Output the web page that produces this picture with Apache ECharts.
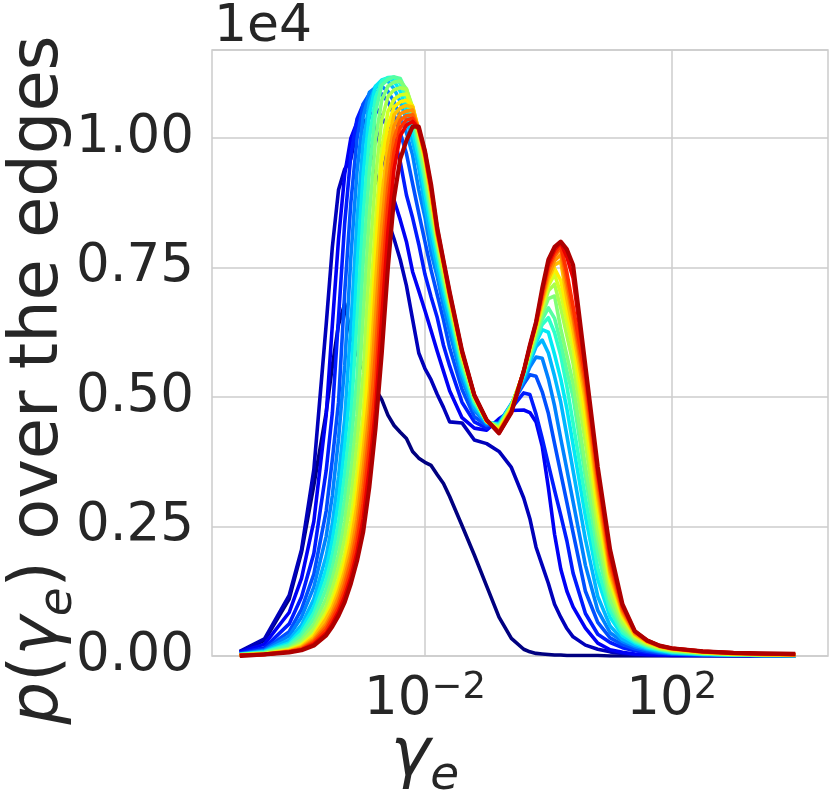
<!DOCTYPE html>
<html><head><meta charset="utf-8">
<script src="https://cdn.jsdelivr.net/npm/echarts@6.0.0/dist/echarts.min.js"></script>
<style>html,body{margin:0;padding:0;background:#fff}#c{width:830px;height:792px}</style>
</head><body><div id="c"></div><script>
// x positions: log10(gamma_e)
const logGamma = [-5.0,-4.6,-4.2,-4.0,-3.8,-3.6,-3.5,-3.4,-3.3,-3.2,-3.1,-3.0,-2.9,-2.8,-2.7,-2.6,-2.5,-2.4,-2.3,-2.2,-2.1,-2.0,-1.9,-1.8,-1.7,-1.6,-1.4,-1.2,-1.0,-0.8,-0.6,-0.4,-0.3,-0.2,-0.1,0.0,0.1,0.2,0.3,0.4,0.6,0.8,1.0,1.2,1.4,1.6,1.8,2.0,2.5,3.0,3.5,4.0];
// p(gamma_e) in units of 1e4, one array per curve (first = darkest blue, last = dark red)
const p00 = [0.008,0.03,0.11,0.2,0.33,0.47,0.56,0.64,0.68,0.62,0.585,0.555,0.535,0.515,0.495,0.465,0.445,0.432,0.42,0.395,0.382,0.374,0.368,0.35,0.333,0.308,0.252,0.195,0.135,0.075,0.034,0.013,0.008,0.005,0.004,0.003,0.002,0.002,0.001,0.001,0.001,0.001,0,0,0,0,0,0,0,0,0,0];
const p01 = [0.009,0.033,0.117,0.205,0.36,0.64,0.79,0.9,0.94,0.96,1.02,1.035,0.98,0.93,0.89,0.84,0.805,0.765,0.715,0.65,0.585,0.555,0.533,0.505,0.48,0.452,0.45,0.417,0.41,0.395,0.364,0.305,0.265,0.21,0.175,0.14,0.10,0.075,0.053,0.037,0.021,0.013,0.008,0.005,0.003,0.002,0.002,0.001,0.001,0,0,0];
const p02 = [0.0075,0.023,0.084,0.150,0.26,0.465,0.64,0.805,0.93,1.0,1.03,1.05,1.052,1.02,0.975,0.925,0.88,0.842,0.80,0.742,0.705,0.667,0.628,0.588,0.55,0.512,0.46,0.44,0.436,0.458,0.474,0.475,0.47,0.452,0.405,0.325,0.235,0.168,0.125,0.095,0.054,0.025,0.012,0.007,0.004,0.003,0.002,0.002,0.001,0.001,0,0];
const p03 = [0.006,0.016,0.062,0.114,0.198,0.358,0.47,0.654,0.836,0.967,1.037,1.065,1.07,1.06,1.04,1.02,0.998,0.954,0.89,0.846,0.795,0.737,0.693,0.653,0.6,0.56,0.49,0.452,0.44,0.45,0.478,0.508,0.505,0.467,0.42,0.37,0.32,0.272,0.222,0.16,0.082,0.042,0.026,0.016,0.01,0.007,0.005,0.004,0.002,0.001,0.001,0];
const p04 = [0.0042,0.0127,0.047,0.09,0.158,0.28,0.38,0.49,0.702,0.876,1.0,1.066,1.085,1.09,1.085,1.07,1.045,1.01,0.97,0.912,0.855,0.80,0.745,0.697,0.649,0.595,0.515,0.462,0.445,0.45,0.485,0.525,0.543,0.54,0.51,0.468,0.41,0.353,0.296,0.238,0.125,0.065,0.035,0.022,0.014,0.009,0.006,0.004,0.002,0.001,0.001,0];
const p05 = [0.0037,0.0107,0.039,0.075,0.133,0.231,0.31,0.419,0.561,0.77,0.936,1.042,1.088,1.098,1.10,1.09,1.07,1.04,1.01,0.967,0.90,0.847,0.778,0.732,0.675,0.625,0.533,0.474,0.448,0.45,0.487,0.53,0.558,0.577,0.575,0.535,0.483,0.42,0.36,0.298,0.175,0.088,0.045,0.028,0.018,0.012,0.008,0.005,0.003,0.002,0.001,0.001];
const p06 = [0.0033,0.0092,0.031,0.06,0.11,0.193,0.256,0.347,0.458,0.639,0.842,0.992,1.07,1.1,1.108,1.11,1.095,1.07,1.035,0.993,0.942,0.868,0.803,0.748,0.693,0.645,0.545,0.48,0.45,0.447,0.485,0.535,0.567,0.597,0.61,0.585,0.54,0.49,0.425,0.358,0.225,0.115,0.058,0.032,0.021,0.014,0.009,0.006,0.003,0.002,0.001,0.001];
const p07 = [0.003,0.0083,0.025,0.052,0.095,0.168,0.224,0.299,0.405,0.53,0.753,0.931,1.047,1.1,1.112,1.116,1.11,1.09,1.055,1.013,0.962,0.893,0.826,0.767,0.709,0.66,0.555,0.487,0.452,0.447,0.485,0.54,0.573,0.605,0.63,0.625,0.582,0.535,0.477,0.408,0.27,0.148,0.075,0.039,0.025,0.016,0.011,0.007,0.004,0.002,0.001,0.001];
const p08 = [0.0027,0.0074,0.022,0.044,0.083,0.148,0.195,0.257,0.351,0.46,0.648,0.852,1.0,1.078,1.11,1.117,1.118,1.105,1.075,1.035,0.977,0.914,0.842,0.782,0.721,0.669,0.563,0.49,0.452,0.445,0.485,0.543,0.578,0.612,0.64,0.653,0.624,0.58,0.52,0.45,0.305,0.17,0.088,0.045,0.028,0.018,0.012,0.008,0.004,0.002,0.001,0.001];
const p09 = [0.0025,0.0066,0.019,0.038,0.072,0.129,0.171,0.225,0.302,0.406,0.537,0.761,0.935,1.051,1.102,1.113,1.118,1.115,1.09,1.045,0.988,0.925,0.854,0.79,0.728,0.674,0.568,0.493,0.453,0.443,0.484,0.545,0.58,0.617,0.65,0.672,0.652,0.605,0.55,0.5,0.345,0.2,0.1,0.051,0.03,0.02,0.013,0.009,0.005,0.003,0.002,0.001];
const p10 = [0.0023,0.0056,0.015,0.032,0.061,0.111,0.15,0.195,0.26,0.353,0.464,0.656,0.851,0.998,1.073,1.1,1.108,1.11,1.095,1.055,0.994,0.932,0.862,0.795,0.735,0.679,0.572,0.496,0.453,0.442,0.483,0.547,0.585,0.623,0.66,0.69,0.695,0.632,0.58,0.527,0.366,0.225,0.11,0.058,0.033,0.021,0.014,0.01,0.006,0.003,0.002,0.001];
const p11 = [0.0021,0.0047,0.0136,0.026,0.052,0.096,0.131,0.172,0.227,0.303,0.41,0.545,0.757,0.925,1.035,1.08,1.093,1.097,1.094,1.06,1.002,0.95,0.875,0.802,0.741,0.684,0.577,0.499,0.453,0.44,0.482,0.548,0.588,0.628,0.668,0.705,0.718,0.672,0.618,0.565,0.412,0.245,0.125,0.065,0.035,0.023,0.015,0.011,0.006,0.004,0.002,0.002];
const p12 = [0.002,0.0039,0.012,0.022,0.043,0.084,0.113,0.15,0.197,0.261,0.356,0.468,0.654,0.839,0.98,1.051,1.075,1.083,1.085,1.06,1.008,0.955,0.882,0.806,0.75,0.688,0.58,0.5,0.453,0.438,0.48,0.549,0.59,0.632,0.675,0.715,0.737,0.7,0.645,0.593,0.44,0.27,0.14,0.073,0.039,0.025,0.017,0.012,0.007,0.004,0.003,0.002];
const p13 = [0.0019,0.0037,0.011,0.02,0.04,0.077,0.102,0.138,0.182,0.238,0.32,0.433,0.582,0.781,0.953,1.023,1.06,1.07,1.073,1.062,1.013,0.96,0.887,0.81,0.753,0.691,0.582,0.501,0.453,0.436,0.478,0.55,0.592,0.635,0.68,0.722,0.748,0.725,0.668,0.615,0.464,0.29,0.15,0.078,0.04,0.026,0.018,0.013,0.007,0.004,0.003,0.002];
const p14 = [0.0018,0.0035,0.010,0.018,0.036,0.072,0.094,0.125,0.165,0.218,0.292,0.396,0.512,0.72,0.883,0.991,1.045,1.058,1.063,1.06,1.015,0.963,0.89,0.812,0.755,0.693,0.584,0.502,0.454,0.434,0.476,0.55,0.594,0.638,0.684,0.728,0.755,0.762,0.69,0.63,0.492,0.307,0.158,0.082,0.042,0.027,0.018,0.013,0.008,0.005,0.003,0.002];
const p15 = [0.0017,0.0034,0.0094,0.016,0.032,0.062,0.085,0.114,0.152,0.198,0.264,0.36,0.471,0.653,0.829,0.955,1.023,1.047,1.052,1.054,1.015,0.967,0.897,0.815,0.758,0.696,0.586,0.503,0.454,0.433,0.474,0.55,0.596,0.64,0.69,0.735,0.763,0.775,0.71,0.65,0.507,0.322,0.166,0.086,0.044,0.028,0.019,0.014,0.008,0.005,0.003,0.003];
const p16 = [0.0016,0.0032,0.0088,0.014,0.029,0.056,0.078,0.103,0.139,0.182,0.24,0.325,0.435,0.585,0.772,0.907,1.0,1.035,1.043,1.045,1.016,0.968,0.9,0.818,0.759,0.697,0.587,0.503,0.455,0.432,0.473,0.55,0.597,0.642,0.695,0.745,0.772,0.788,0.725,0.66,0.522,0.336,0.175,0.09,0.046,0.029,0.019,0.014,0.008,0.005,0.004,0.003];
const p17 = [0.0015,0.003,0.0083,0.013,0.026,0.05,0.071,0.094,0.126,0.166,0.22,0.295,0.40,0.52,0.715,0.869,0.973,1.02,1.035,1.038,1.017,0.97,0.903,0.82,0.761,0.699,0.588,0.504,0.455,0.431,0.472,0.55,0.598,0.643,0.7,0.752,0.778,0.793,0.74,0.675,0.537,0.35,0.185,0.094,0.047,0.03,0.02,0.015,0.009,0.006,0.004,0.003];
const p18 = [0.0015,0.003,0.0077,0.012,0.023,0.044,0.063,0.086,0.115,0.152,0.2,0.265,0.363,0.475,0.653,0.819,0.94,1.004,1.025,1.032,1.018,0.975,0.905,0.825,0.763,0.702,0.589,0.504,0.455,0.43,0.471,0.55,0.599,0.644,0.705,0.758,0.784,0.798,0.77,0.73,0.55,0.355,0.195,0.097,0.048,0.03,0.02,0.015,0.009,0.006,0.004,0.003];
const p19 = [0,0.003,0.007,0.011,0.02,0.04,0.057,0.078,0.104,0.14,0.184,0.24,0.327,0.44,0.584,0.75,0.885,0.96,0.995,1.022,1.022,0.975,0.91,0.826,0.764,0.703,0.59,0.504,0.456,0.43,0.47,0.55,0.60,0.645,0.71,0.765,0.79,0.80,0.785,0.755,0.56,0.365,0.205,0.10,0.048,0.03,0.02,0.015,0.009,0.006,0.005,0.004];
const curves = [p00,p01,p02,p03,p04,p05,p06,p07,p08,p09,p10,p11,p12,p13,p14,p15,p16,p17,p18,p19];
const xTickExponents = [-2, 2];
const yTicks = [0, 0.25, 0.5, 0.75, 1.0];

const FONT = 'DejaVu Sans';
const TXT = '#262626';
const GRID = '#cccccc';

function seg(t, pts) {
  for (let k = 1; k < pts.length; k++) {
    if (t <= pts[k][0]) {
      const x0 = pts[k-1][0], y0 = pts[k-1][1], x1 = pts[k][0], y1 = pts[k][1];
      return y0 + (y1 - y0) * (t - x0) / (x1 - x0);
    }
  }
  return pts[pts.length-1][1];
}
function jet(t) {
  const r = seg(t, [[0,0],[0.35,0],[0.66,1],[0.89,1],[1,0.5]]);
  const g = seg(t, [[0,0],[0.125,0],[0.375,1],[0.64,1],[0.91,0],[1,0]]);
  const b = seg(t, [[0,0.5],[0.11,1],[0.34,1],[0.65,0],[1,0]]);
  return 'rgb(' + Math.round(r*255) + ',' + Math.round(g*255) + ',' + Math.round(b*255) + ')';
}

const chart = echarts.init(document.getElementById('c'), null, {renderer: 'canvas'});
const series = curves.map((vals, i) => ({
  type: 'line',
  data: logGamma.map((x, j) => [x, vals[j]]),
  showSymbol: false,
  symbol: 'none',
  silent: true,
  lineStyle: { width: i === curves.length - 1 ? 4.2 : 3.6, color: jet(i / (curves.length - 1) * 0.96), join: 'round' },
  z: 2
}));

const titleRich = {
  i: { fontFamily: FONT, fontSize: 67, fontStyle: 'italic', fill: TXT, lineHeight: 84 },
  n: { fontFamily: FONT, fontSize: 67, fill: TXT, lineHeight: 84 },
  sub: { fontFamily: FONT, fontSize: 47, fontStyle: 'italic', fill: TXT, verticalAlign: 'bottom', lineHeight: 84 }
};

chart.setOption({
  animation: false,
  backgroundColor: '#ffffff',
  grid: { left: 212, top: 50, right: 2, bottom: 136, show: true, borderColor: GRID, borderWidth: 1.5, backgroundColor: '#ffffff' },
  xAxis: {
    type: 'value', min: -5.45, max: 4.53,
    axisLine: { show: false },
    axisTick: { show: false, customValues: xTickExponents },
    splitLine: { show: true, lineStyle: { color: GRID, width: 1.5 } },
    axisLabel: {
      customValues: xTickExponents,
      margin: 14,
      formatter: v => '{b|10}{s|' + (v < 0 ? '\u2212' : '') + Math.abs(v) + '}',
      rich: {
        b: { fontFamily: FONT, fontSize: 53, color: TXT, lineHeight: 60 },
        s: { fontFamily: FONT, fontSize: 37, color: TXT, verticalAlign: 'top', lineHeight: 40 }
      }
    }
  },
  yAxis: {
    type: 'value', min: 0, max: 1.17, interval: 0.25,
    axisLine: { show: false },
    axisTick: { show: false },
    splitLine: { show: true, lineStyle: { color: GRID, width: 1.5 } },
    axisLabel: {
      margin: 18, fontFamily: FONT, fontSize: 53, color: TXT, showMaxLabel: false,
      formatter: v => yTicks.some(t => Math.abs(t - v) < 1e-6) ? v.toFixed(2) : ''
    }
  },
  graphic: [
    { type: 'text', x: 214, y: 27, style: { text: '1e4', fontFamily: FONT, fontSize: 52, fill: TXT, align: 'left', verticalAlign: 'middle' } },
    { type: 'text', x: 40, y: 380, rotation: Math.PI / 2,
      style: {
        text: '{i|p}{n|(}{i|\u03b3}{sub|e}{n|) over the edges}',
        fontFamily: FONT, fontSize: 67, fill: TXT, align: 'center', verticalAlign: 'middle',
        rich: titleRich
      } },
    { type: 'text', x: 425, y: 758,
      style: {
        text: '{i|\u03b3}{sub|e}', fontFamily: FONT, fontSize: 67, align: 'center', verticalAlign: 'middle', fill: TXT,
        rich: titleRich
      } }
  ],
  series: series
});
</script></body></html>
